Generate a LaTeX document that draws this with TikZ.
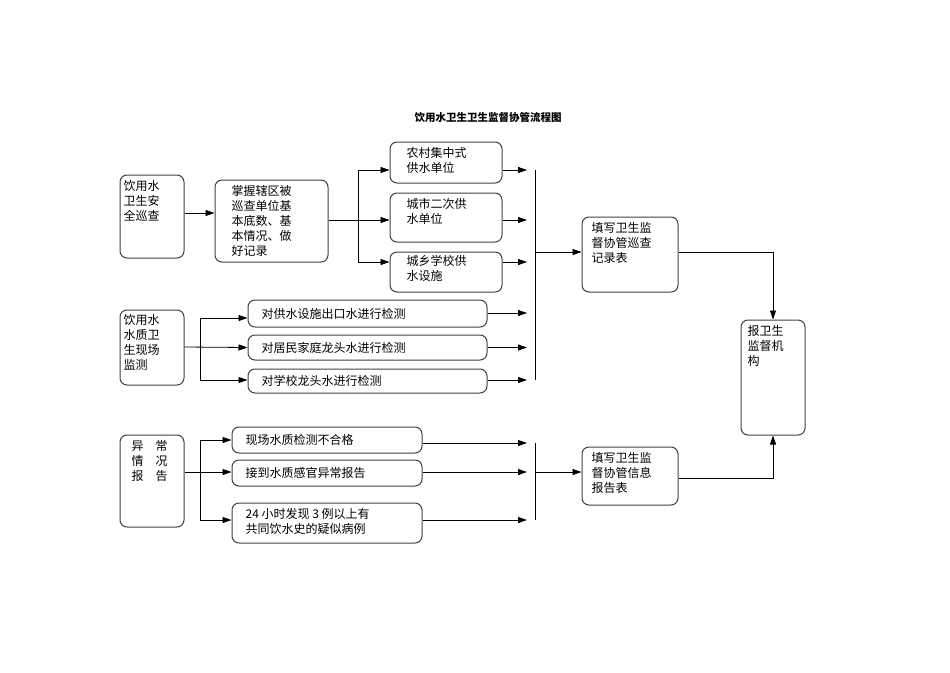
\documentclass[tikz,border=0pt]{standalone}
\usepackage{fontspec}
\setmainfont{Noto Sans CJK SC}
\usetikzlibrary{arrows.meta}
\begin{document}
\begin{tikzpicture}[x=1pt,y=-1pt,
  box/.style={draw=black!75,line width=1pt,rounded corners=7pt,inner sep=0pt},
  txt/.style={font=\fontsize{12}{15}\selectfont,align=left,inner sep=0pt},
  ln/.style={line width=0.8pt},
  ar/.style={line width=0.8pt,-{Triangle[length=9pt,width=6pt]}}]
\useasboundingbox (0,0) rectangle (950,672);
\node[font=\bfseries\fontsize{10.5}{12}\selectfont] (title) at (488,117) {饮用水卫生卫生监督协管流程图};
% boxes
\node[box,minimum width=64,minimum height=83] (A) at (152,216.5) {};
\node[box,minimum width=113,minimum height=82] (B) at (271.5,221) {};
\node[box,minimum width=112,minimum height=41] (C1) at (446,162.5) {};
\node[box,minimum width=112,minimum height=49] (C2) at (446,217.5) {};
\node[box,minimum width=112,minimum height=40] (C3) at (446,272) {};
\node[box,minimum width=96,minimum height=75] (D) at (630,254.5) {};
\node[box,minimum width=64,minimum height=115] (E) at (773,377.5) {};
\node[box,minimum width=64,minimum height=75] (F) at (152,347.5) {};
\node[box,minimum width=239,minimum height=27] (G1) at (367.5,313.5) {};
\node[box,minimum width=239,minimum height=25] (G2) at (367.5,347.5) {};
\node[box,minimum width=239,minimum height=24] (G3) at (367.5,381) {};
\node[box,minimum width=64,minimum height=92] (H) at (152,481) {};
\node[box,minimum width=190,minimum height=26] (I1) at (327,440) {};
\node[box,minimum width=190,minimum height=26] (I2) at (327,473) {};
\node[box,minimum width=190,minimum height=40] (I3) at (327,523) {};
\node[box,minimum width=96,minimum height=58] (D2) at (630,476) {};
% texts
\node[txt,anchor=north west] (tA) at ([shift={(4,6)}]A.north west) {饮用水\\卫生安\\全巡查};
\node[txt,anchor=north west] (tB) at ([shift={(17,6)}]B.north west) {掌握辖区被\\巡查单位基\\本底数、基\\本情况、做\\好记录};
\node[txt,anchor=north west] (tC1) at ([shift={(17,6)}]C1.north west) {农村集中式\\供水单位};
\node[txt,anchor=north west] (tC2) at ([shift={(17,6)}]C2.north west) {城市二次供\\水单位};
\node[txt,anchor=north west] (tC3) at ([shift={(17,4)}]C3.north west) {城乡学校供\\水设施};
\node[txt,anchor=north west] (tD) at ([shift={(10,6)}]D.north west) {填写卫生监\\督协管巡查\\记录表};
\node[txt,anchor=north west] (tE) at ([shift={(7,6)}]E.north west) {报卫生\\监督机\\构};
\node[txt,anchor=north west] (tF) at ([shift={(4,5)}]F.north west) {饮用水\\水质卫\\生现场\\监测};
\node[txt,anchor=west] (tG1) at ([shift={(14,0)}]G1.west) {对供水设施出口水进行检测};
\node[txt,anchor=west] (tG2) at ([shift={(14,0)}]G2.west) {对居民家庭龙头水进行检测};
\node[txt,anchor=west] (tG3) at ([shift={(14,0)}]G3.west) {对学校龙头水进行检测};
\node[txt,anchor=north west] (tH) at ([shift={(12,6)}]H.north west) {异\quad 常\\情\quad 况\\报\quad 告};
\node[txt,anchor=west] (tI1) at ([shift={(14,0)}]I1.west) {现场水质检测不合格};
\node[txt,anchor=west] (tI2) at ([shift={(14,0)}]I2.west) {接到水质感官异常报告};
\node[txt,anchor=north west] (tI3) at ([shift={(14,6)}]I3.north west) {24 小时发现 3 例以上有\\共同饮水史的疑似病例};
\node[txt,anchor=north west] (tD2) at ([shift={(10,6)}]D2.north west) {填写卫生监\\督协管信息\\报告表};
% coordinates
\coordinate (b1t) at (358,170); \coordinate (b1b) at (358,262);
\coordinate (bus1t) at (535,170); \coordinate (bus1b) at (535,380);
\coordinate (b2t) at (200,318); \coordinate (b2b) at (200,380);
\coordinate (b3t) at (200,440); \coordinate (b3b) at (200,520);
\coordinate (bus2t) at (535,443); \coordinate (bus2b) at (535,520);
% connectors top
\draw[ar] (A.east |- 0,213) -- (B.west |- 0,213);
\draw[ln] (B.east |- 0,220) -- (358,220);
\draw[ln] (b1t) -- (b1b);
\draw[ar] (b1t) -- (C1.west |- b1t);
\draw[ar] (358,220) -- (C2.west |- 0,220);
\draw[ar] (b1b) -- (C3.west |- b1b);
\draw[ar] (C1.east |- 0,170) -- (527,170);
\draw[ar] (C2.east |- 0,220) -- (527,220);
\draw[ar] (C3.east |- 0,262) -- (527,262);
\draw[ln] (bus1t) -- (bus1b);
\draw[ar] (535,252) -- (D.west |- 0,252);
\draw[ar] (D.east |- 0,252) -- (773,252) -- (E.north);
% middle
\draw[ar] (F.east |- 0,347) -- (G2.west);
\draw[ln] (b2t) -- (b2b);
\draw[ar] (b2t) -- (G1.west |- b2t);
\draw[ar] (b2b) -- (G3.west |- b2b);
\draw[ar] (G1.east |- 0,313) -- (527,313);
\draw[ar] (G2.east) -- (527,347.5);
\draw[ar] (G3.east |- 0,380) -- (527,380);
% bottom
\draw[ln] (H.east |- 0,472) -- (200,472);
\draw[ln] (b3t) -- (b3b);
\draw[ar] (b3t) -- (I1.west |- b3t);
\draw[ar] (200,472) -- (I2.west |- 0,472);
\draw[ar] (b3b) -- (I3.west |- b3b);
\draw[ar] (I1.east |- 0,443) -- (527,443);
\draw[ar] (I2.east |- 0,472) -- (527,472);
\draw[ar] (I3.east |- 0,520) -- (527,520);
\draw[ln] (bus2t) -- (bus2b);
\draw[ar] (535,472) -- (D2.west |- 0,472);
\draw[ar] (D2.east |- 0,478) -- (773,478) -- (E.south);
\end{tikzpicture}
\end{document}
